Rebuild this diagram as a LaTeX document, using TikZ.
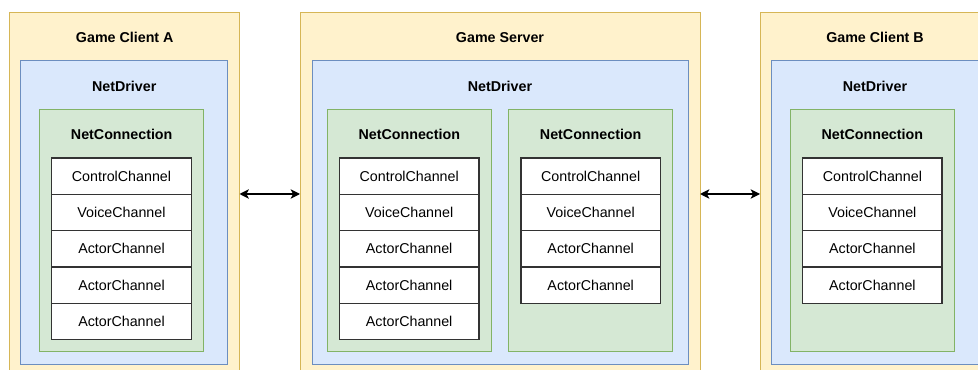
\documentclass[tikz,border=0pt]{standalone}
\usepackage{fontspec}
\setmainfont{Liberation Sans}
\usetikzlibrary{arrows.meta}
\definecolor{hostfill}{HTML}{FFF2CC}
\definecolor{hostline}{HTML}{D6B656}
\definecolor{drvfill}{HTML}{DAE8FC}
\definecolor{drvline}{HTML}{6C8EBF}
\definecolor{connfill}{HTML}{D5E8D4}
\definecolor{connline}{HTML}{82B366}
\definecolor{chanline}{HTML}{333333}
\begin{document}
\begin{tikzpicture}[x=0.75pt,y=-0.75pt,
  box/.style={anchor=north west, inner sep=0pt, outer sep=0pt, line width=0.75pt},
  host/.style={box, draw=hostline, fill=hostfill, minimum height=363*0.75pt},
  driver/.style={box, draw=drvline, fill=drvfill, minimum height=303.3*0.75pt},
  conn/.style={box, draw=connline, fill=connfill, minimum width=164*0.75pt, minimum height=242.4*0.75pt},
  chan/.style={anchor=north, draw=chanline, fill=white, line width=1pt, inner sep=0pt, outer sep=0pt,
    minimum width=139.5*0.75pt, minimum height=36.35*0.75pt, font=\fontsize{10.7}{12}\selectfont},
  title/.style={anchor=base, font=\bfseries\fontsize{10.7}{12}\selectfont, inner sep=0pt},
  link/.style={draw=black, line width=1pt, {Stealth[length=7pt,width=7pt,inset=1.8pt]}-{Stealth[length=7pt,width=7pt,inset=1.8pt]}}
]
\useasboundingbox (0,0) rectangle (978,370);
\clip (0,0) rectangle (978,370);

% Game Client A
\node[host, minimum width=230*0.75pt] (ca) at (9.5,12.5) {};
\node[title] (cat) at (124.75,42.6) {Game Client A};
\node[driver, minimum width=207*0.75pt] (cad) at (20.7,61) {};
\node[title] (cadt) at (124.2,91.4) {NetDriver};
\node[conn] (cac) at (39.7,109.3) {};
\node[title] (cact) at (121.7,139.4) {NetConnection};
\node[chan] (a1) at (121.5,158) {ControlChannel};
\node[chan] (a2) at (a1.south) {VoiceChannel};
\node[chan] (a3) at (a2.south) {ActorChannel};
\node[chan] (a4) at (a3.south) {ActorChannel};
\node[chan] (a5) at (a4.south) {ActorChannel};

% Game Server
\node[host, minimum width=400*0.75pt] (srv) at (300,12.5) {};
\node[title] (srvt) at (500,42.6) {Game Server};
\node[driver, minimum width=376.3*0.75pt] (sd) at (312,61) {};
\node[title] (sdt) at (500,91.4) {NetDriver};
\node[conn] (sc1) at (327.3,109.3) {};
\node[title] (sc1t) at (409.3,139.4) {NetConnection};
\node[chan] (s1) at (409.2,158) {ControlChannel};
\node[chan] (s2) at (s1.south) {VoiceChannel};
\node[chan] (s3) at (s2.south) {ActorChannel};
\node[chan] (s4) at (s3.south) {ActorChannel};
\node[chan] (s5) at (s4.south) {ActorChannel};
\node[conn] (sc2) at (508.7,109.3) {};
\node[title] (sc2t) at (590.7,139.4) {NetConnection};
\node[chan] (t1) at (590.7,158) {ControlChannel};
\node[chan] (t2) at (t1.south) {VoiceChannel};
\node[chan] (t3) at (t2.south) {ActorChannel};
\node[chan] (t4) at (t3.south) {ActorChannel};

% Game Client B
\node[host, minimum width=230*0.75pt] (cb) at (760,12.5) {};
\node[title] (cbt) at (875,42.6) {Game Client B};
\node[driver, minimum width=207*0.75pt] (cbd) at (771.7,61) {};
\node[title] (cbdt) at (875,91.4) {NetDriver};
\node[conn] (cbc) at (790.3,109.3) {};
\node[title] (cbct) at (872.3,139.4) {NetConnection};
\node[chan] (b1) at (872.4,158) {ControlChannel};
\node[chan] (b2) at (b1.south) {VoiceChannel};
\node[chan] (b3) at (b2.south) {ActorChannel};
\node[chan] (b4) at (b3.south) {ActorChannel};

% links between the hosts
\draw[link] (ca.east) -- (srv.west);
\draw[link] (srv.east) -- (cb.west);
\end{tikzpicture}
\end{document}
